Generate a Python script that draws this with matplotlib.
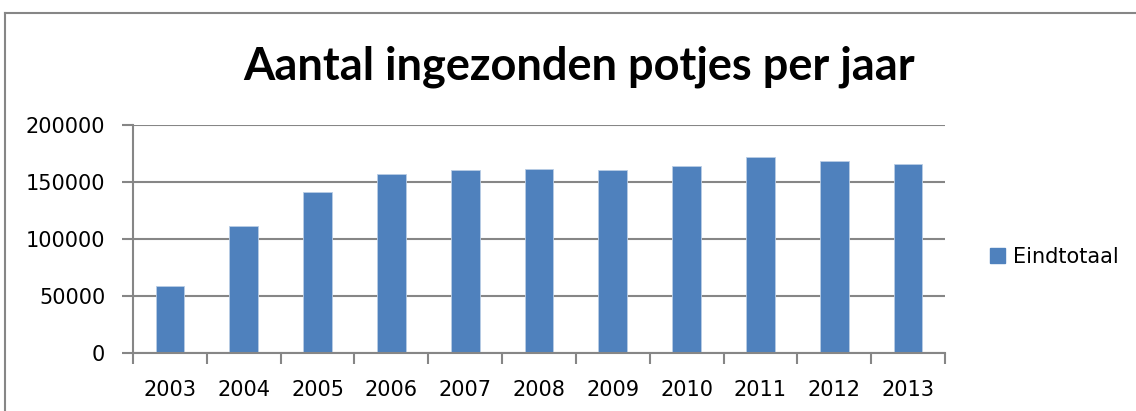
import matplotlib
matplotlib.use("Agg")
import matplotlib.pyplot as plt
from matplotlib.lines import Line2D
from matplotlib.patches import Patch
import numpy as np

years = ["2003", "2004", "2005", "2006", "2007", "2008", "2009", "2010", "2011", "2012", "2013"]
eindtotaal = [59300, 111700, 140900, 157000, 160200, 161100, 160800, 164300, 172200, 168900, 165800]
yticks = [0, 50000, 100000, 150000, 200000]
title = "Aantal ingezonden potjes per jaar"
series_name = "Eindtotaal"

W, H = 1136, 411
fig = plt.figure(figsize=(W / 100, H / 100), dpi=100)
font = "DejaVu Sans"
grey = "#868686"
blue = "#4F81BD"

# chart border (left and top edges visible)
bx, by = 4.5 / W, (H - 12.7) / H
fig.lines.append(Line2D([bx, bx], [0, by], transform=fig.transFigure, color=grey, linewidth=1.5))
fig.lines.append(Line2D([bx, 1], [by, by], transform=fig.transFigure, color=grey, linewidth=1.5))

ax = fig.add_axes([133 / W, (H - 353.3) / H, (945 - 133) / W, (353.3 - 125) / H])
x = np.arange(len(years))
ax.bar(x, eindtotaal, width=0.39, color=blue, edgecolor="#b9cde5", linewidth=0.6, zorder=3)
ax.set_xlim(-0.5, len(years) - 0.5)
ax.set_ylim(0, 200000)
ax.set_yticks(yticks)
ax.set_yticklabels([str(v) for v in yticks], fontsize=15, family=font)
ax.set_xticks(x)
ax.set_xticklabels(years, fontsize=15, family=font)
ax.set_xticks(np.arange(-0.5, len(years) + 0.5, 1), minor=True)
ax.tick_params(axis="x", which="major", length=0, pad=19)
ax.tick_params(axis="x", which="minor", length=8, width=1.5, color=grey)
ax.tick_params(axis="y", length=8, width=1.5, color=grey, pad=12)
ax.grid(axis="y", color=grey, linewidth=1.5, zorder=0)
ax.set_axisbelow(True)
for s in ["top", "right"]:
    ax.spines[s].set_visible(False)
for s in ["left", "bottom"]:
    ax.spines[s].set_color(grey)
    ax.spines[s].set_linewidth(1.5)
    ax.spines[s].set_zorder(4)

fig.text(579 / W, (H - 79) / H, title, ha="center", va="baseline",
         fontsize=32.5, fontweight="bold", family="Lato")

leg = fig.legend(handles=[Patch(facecolor=blue, edgecolor=blue, label=series_name)],
                 loc="center left", bbox_to_anchor=(980 / W, (H - 257) / H),
                 frameon=False, prop={"family": font, "size": 15},
                 handlelength=0.7, handleheight=0.7, handletextpad=0.4, borderpad=0)

fig.savefig("out.png", dpi=100)
